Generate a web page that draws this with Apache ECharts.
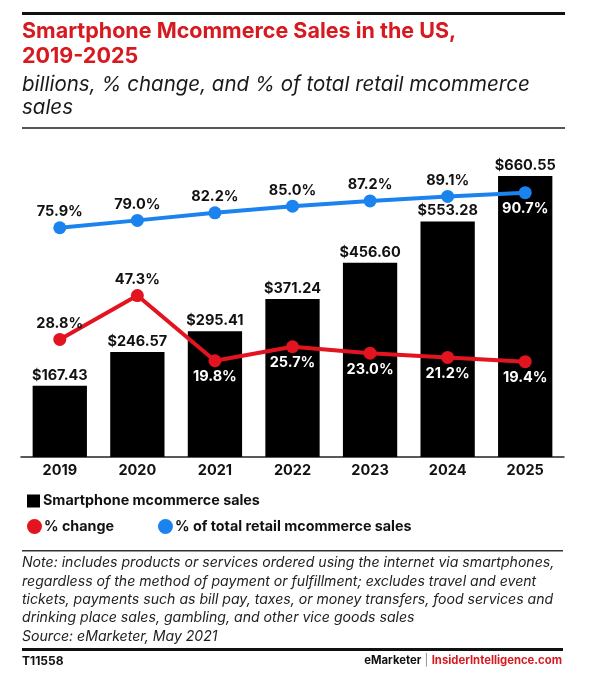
<!DOCTYPE html>
<html>
<head>
<meta charset="utf-8">
<script src="https://cdn.jsdelivr.net/npm/echarts@6/dist/echarts.min.js"></script>
<style>html,body{margin:0;padding:0;background:#fff}#c{width:600px;height:682px}</style>
</head>
<body>
<div id="c"></div>
<script>
var years = ['2019', '2020', '2021', '2022', '2023', '2024', '2025'];
var salesBillions = [167.43, 246.57, 295.41, 371.24, 456.60, 553.28, 660.55];
var pctChange = [28.8, 47.3, 19.8, 25.7, 23.0, 21.2, 19.4];
var pctOfTotal = [75.9, 79.0, 82.2, 85.0, 87.2, 89.1, 90.7];
var redLabelBelow = [false, false, true, true, true, true, true];
var blueLabelBelow = [false, false, false, false, false, false, true];

var FONT = 'Inter, Lato, "DejaVu Sans", sans-serif';
var RED = '#e1141f';
var BLUE = '#1b83ee';
var LBL = 14.5;

function lineData(vals, below) {
  return vals.map(function (v, i) {
    return {
      value: v,
      label: below[i]
        ? { position: 'bottom', color: '#fff', distance: 2 }
        : { position: 'top', color: '#111', distance: 2 }
    };
  });
}

var chart = echarts.init(document.getElementById('c'), null, { renderer: 'canvas' });
chart.setOption({
  backgroundColor: '#fff',
  animation: false,
  textStyle: { fontFamily: FONT },
  grid: { left: 21, right: 36, top: 140, bottom: 225, containLabel: false },
  legend: [
    {
      left: 22, top: 489, itemWidth: 13, itemHeight: 13, itemGap: 10,
      data: [{ name: 'Smartphone mcommerce sales', icon: 'rect' }],
      textStyle: { fontFamily: FONT, fontSize: 14.3, fontWeight: 'bold', color: '#111', padding: [0, 0, 0, -2] }
    },
    {
      left: 22, top: 514, itemWidth: 15, itemHeight: 15, itemGap: 44,
      data: [{ name: '% change', icon: 'circle' }, { name: '% of total retail mcommerce sales', icon: 'circle' }],
      textStyle: { fontFamily: FONT, fontSize: 14.3, fontWeight: 'bold', color: '#111', padding: [0, 0, 0, -3] }
    }
  ],
  xAxis: {
    type: 'category',
    data: years,
    axisLine: { lineStyle: { color: '#222', width: 1.5 } },
    axisTick: { show: false },
    axisLabel: { color: '#111', fontFamily: FONT, fontSize: LBL, fontWeight: 'bold', margin: 6 }
  },
  yAxis: [
    { type: 'value', min: 0, max: 745, show: false },
    { type: 'value', min: -20.8, max: 112.9, show: false }
  ],
  series: [
    {
      name: 'Smartphone mcommerce sales',
      type: 'bar',
      data: salesBillions,
      barCategoryGap: '30%',
      itemStyle: { color: '#000' },
      label: {
        show: true, position: 'top', distance: 3, color: '#111',
        fontFamily: FONT, fontSize: LBL, fontWeight: 'bold',
        formatter: function (p) { return '$' + p.value.toFixed(2); }
      },
      z: 1
    },
    {
      name: '% change',
      type: 'line',
      yAxisIndex: 1,
      data: lineData(pctChange, redLabelBelow),
      symbol: 'circle', symbolSize: 13,
      lineStyle: { color: RED, width: 4 },
      itemStyle: { color: RED },
      label: {
        show: true, fontFamily: FONT, fontSize: LBL, fontWeight: 'bold',
        formatter: function (p) { return p.value.toFixed(1) + '%'; }
      },
      z: 3
    },
    {
      name: '% of total retail mcommerce sales',
      type: 'line',
      yAxisIndex: 1,
      data: lineData(pctOfTotal, blueLabelBelow),
      symbol: 'circle', symbolSize: 13,
      lineStyle: { color: BLUE, width: 4 },
      itemStyle: { color: BLUE },
      label: {
        show: true, fontFamily: FONT, fontSize: LBL, fontWeight: 'bold',
        formatter: function (p) { return p.value.toFixed(1) + '%'; }
      },
      z: 3
    }
  ],
  graphic: [
    { type: 'rect', shape: { x: 22, y: 12, width: 543, height: 3 }, style: { fill: '#111' } },
    { type: 'text', left: 22, top: 19, style: { text: 'Smartphone Mcommerce Sales in the US,\n2019-2025', fill: '#d71920', font: 'bold 21.5px ' + FONT, lineHeight: 25 } },
    { type: 'text', left: 22, top: 73, style: { text: 'billions, % change, and % of total retail mcommerce\nsales', fill: '#1a1a1a', font: 'italic 20.5px ' + FONT, lineHeight: 23 } },
    { type: 'rect', shape: { x: 22, y: 127, width: 543, height: 2 }, style: { fill: '#555' } },
    { type: 'rect', shape: { x: 22, y: 550, width: 541, height: 1.5 }, style: { fill: '#333' } },
    { type: 'text', left: 22, top: 554, style: {
      text: 'Note: includes products or services ordered using the internet via smartphones,\nregardless of the method of payment or fulfillment; excludes travel and event\ntickets, payments such as bill pay, taxes, or money transfers, food services and\ndrinking place sales, gambling, and other vice goods sales\nSource: eMarketer, May 2021',
      fill: '#222', font: 'italic 14.1px ' + FONT, lineHeight: 18.3 } },
    { type: 'rect', shape: { x: 22, y: 648, width: 541, height: 3 }, style: { fill: '#111' } },
    { type: 'text', left: 22, top: 655, style: { text: 'T11558', fill: '#111', font: 'bold 12px ' + FONT } },
    { type: 'text', right: 38, top: 655, style: {
      text: '{a|eMarketer} {b||} {c|InsiderIntelligence.com}',
      rich: {
        a: { fill: '#111', font: 'bold 11.3px ' + FONT },
        b: { fill: '#888', font: '11.3px ' + FONT },
        c: { fill: '#d71920', font: 'bold 11.3px ' + FONT }
      } } }
  ]
});
</script>
</body>
</html>
